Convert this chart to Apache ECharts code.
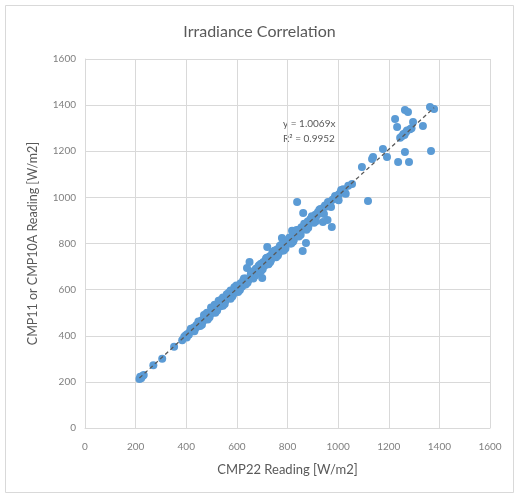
<!DOCTYPE html>
<html>
<head>
<meta charset="utf-8">
<script src="https://cdn.jsdelivr.net/npm/echarts@6/dist/echarts.min.js"></script>
<style>
  html, body { margin: 0; padding: 0; background: #fff; }
  #chart { width: 519px; height: 495px; }
</style>
</head>
<body>
<div id="chart"></div>
<script>
// CMP22 reading (x) vs CMP11 / CMP10A reading (y), W/m2
var cmp22 = [
  215, 218, 222, 228, 232, 270, 305, 352, 384, 392, 398, 405, 410, 415, 420, 425, 430, 436, 440, 445,
  450, 455, 460, 465, 470, 475, 480, 485, 490, 495, 500, 505, 510, 515, 520, 525, 530, 535, 540, 545,
  550, 555, 560, 565, 570, 575, 580, 585, 590, 595, 600, 605, 610, 615, 620, 625, 630, 635, 640, 645,
  650, 655, 660, 665, 670, 675, 680, 685, 690, 695, 700, 705, 710, 715, 720, 725, 730, 735, 740, 745,
  750, 755, 760, 765, 770, 778, 780, 785, 790, 795, 800, 805, 810, 818, 820, 825, 830, 838, 840, 845,
  850, 855, 860, 862, 865, 870, 873, 875, 880, 885, 890, 895, 900, 905, 910, 915, 920, 925, 930, 935,
  940, 942, 948, 955, 958, 962, 968, 975, 978, 985, 990, 995, 1000, 1005, 1010, 1015, 1020, 1025, 1040, 1055,
  1094, 1118, 1134, 1138, 1177, 1193, 1225, 1233, 1237, 1245, 1252, 1258, 1262, 1264, 1268, 1272, 1276, 1280, 1284, 1290,
  1296, 1335, 1264, 1367, 1363, 1379, 498, 512, 528, 545, 560, 575, 590, 470, 482,
  402, 418, 432, 448, 462, 478, 492, 508, 522, 538, 552, 568, 582, 598, 612, 628, 642, 658, 672, 688,
  702, 718, 732, 748, 762, 776, 792, 808, 822, 836, 852, 866, 882, 896, 912, 926, 944, 960, 972, 988,
  1002, 1012, 1030, 455, 485, 515, 545, 575, 605, 635, 665, 695, 725, 755, 785, 815, 845, 875, 905
]
var cmp11 = [
  212, 222, 216, 226, 230, 272, 300, 352, 380, 396, 402, 408, 404, 418, 426, 420, 436, 432, 445, 440,
  458, 452, 466, 462, 476, 470, 488, 482, 494, 500, 498, 512, 506, 522, 516, 530, 536, 528, 548, 540,
  560, 552, 566, 576, 564, 584, 590, 578, 600, 606, 596, 615, 604, 628, 612, 640, 622, 648, 694, 640,
  720, 668, 650, 680, 660, 690, 672, 700, 685, 712, 650, 720, 705, 735, 785, 712, 745, 728, 760, 740,
  770, 752, 775, 758, 790, 824, 770, 800, 785, 812, 805, 820, 800, 855, 830, 815, 845, 980, 835, 860,
  850, 870, 768, 932, 862, 880, 802, 870, 895, 885, 905, 900, 915, 908, 925, 920, 935, 930, 950, 945,
  893, 955, 965, 960, 902, 975, 980, 872, 990, 995, 1000, 1005, 1010, 1015, 1022, 1030, 1035, 1028, 1050, 1058,
  1132, 984, 1166, 1175, 1210, 1175, 1340, 1305, 1153, 1258, 1265, 1275, 1270, 1379, 1282, 1290, 1370, 1153, 1295, 1300,
  1327, 1310, 1197, 1201, 1392, 1383, 522, 534, 552, 566, 580, 596, 610, 490, 500,
  392, 430, 420, 462, 448, 494, 480, 524, 510, 556, 538, 586, 570, 618, 598, 648, 630, 676, 660, 706,
  688, 738, 720, 768, 748, 795, 778, 826, 808, 858, 838, 886, 868, 918, 896, 946, 928, 980, 958, 1006,
  988, 1032, 1016, 442, 470, 500, 530, 560, 590, 622, 648, 680, 710, 740, 770, 800, 830, 860, 890
]
var axisTicks = [0, 200, 400, 600, 800, 1000, 1200, 1400, 1600]
var trendSlope = 1.0069
var trendR2 = 0.9952

var points = cmp22.map(function(x, i) { return [x, cmp11[i]] })
var xMin = Math.min.apply(null, cmp22)
var xMax = Math.max.apply(null, cmp22)
var trend = [[xMin, xMin * trendSlope], [xMax, xMax * trendSlope]]

var font = 'Lato, "Open Sans", sans-serif'
var grey = '#595959'
var gridGrey = '#d9d9d9'
var plainNumber = function(v) { return String(v) }

var chart = echarts.init(document.getElementById('chart'))
chart.setOption({
  animation: false,
  backgroundColor: '#fff',
  title: {
    text: 'Irradiance Correlation',
    left: 'center',
    top: 19,
    textStyle: { fontFamily: font, fontSize: 16, fontWeight: 'normal', color: grey }
  },
  grid: { left: 85, right: 29, top: 59, bottom: 67 },
  xAxis: {
    type: 'value',
    min: axisTicks[0],
    max: axisTicks[axisTicks.length - 1],
    interval: 200,
    name: 'CMP22 Reading [W/m2]',
    nameLocation: 'middle',
    nameGap: 35,
    nameTextStyle: { fontFamily: font, fontSize: 13, color: grey },
    axisLine: { lineStyle: { color: gridGrey } },
    axisTick: { show: false },
    axisLabel: { fontFamily: font, fontSize: 10, color: '#7f7f7f', margin: 14, formatter: plainNumber },
    splitLine: { lineStyle: { color: gridGrey } }
  },
  yAxis: {
    type: 'value',
    min: axisTicks[0],
    max: axisTicks[axisTicks.length - 1],
    interval: 200,
    name: 'CMP11 or CMP10A Reading [W/m2]',
    nameLocation: 'middle',
    nameGap: 46,
    nameTextStyle: { fontFamily: font, fontSize: 12.5, color: grey },
    axisLine: { show: true, lineStyle: { color: gridGrey } },
    axisTick: { show: false },
    axisLabel: { fontFamily: font, fontSize: 10, color: '#7f7f7f', margin: 9, formatter: plainNumber },
    splitLine: { lineStyle: { color: gridGrey } }
  },
  graphic: [{
    type: 'rect',
    shape: { x: 5.5, y: 5.5, width: 508, height: 487 },
    style: { fill: 'none', stroke: gridGrey, lineWidth: 1 },
    z: -1
  }, {
    type: 'text',
    left: 283,
    top: 116,
    style: {
      text: 'y = ' + trendSlope + 'x\nR\u00b2 = ' + trendR2,
      fontFamily: font,
      fontSize: 10,
      lineHeight: 15,
      fill: grey
    }
  }],
  series: [{
    name: 'Readings',
    type: 'scatter',
    symbolSize: 8,
    itemStyle: { color: '#5b9bd5', opacity: 1 },
    data: points
  }, {
    name: 'Linear fit',
    type: 'line',
    symbol: 'none',
    z: 5,
    lineStyle: { color: '#595959', width: 1.3, type: [4, 3] },
    data: trend
  }]
})
</script>
</body>
</html>
